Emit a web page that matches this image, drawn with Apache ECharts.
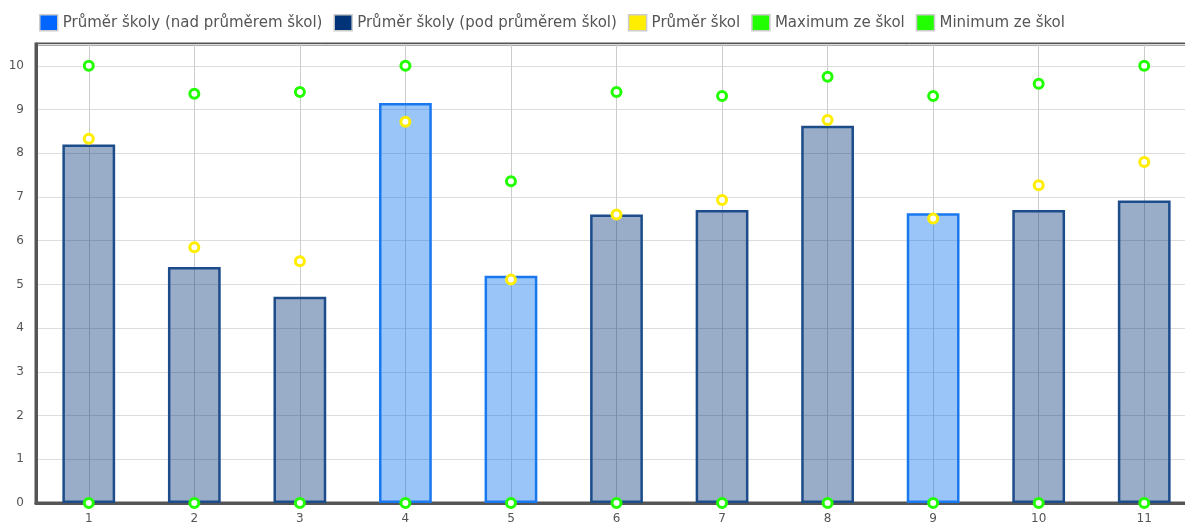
<!DOCTYPE html>
<html><head><meta charset="utf-8">
<script src="https://cdn.jsdelivr.net/npm/echarts@6/dist/echarts.min.js"></script>
<style>html,body{margin:0;padding:0;background:#fff;overflow:hidden;width:1185px;height:525px}
#wrap{width:1185px;height:525px;overflow:hidden;position:relative}
#c{width:1197px;height:525px;position:absolute;left:0;top:0}</style>
</head><body><div id="wrap"><div id="c"></div></div>
<script>
const categories = ['1','2','3','4','5','6','7','8','9','10','11'];
const schoolAbove = ['-','-','-',9.15,5.2,'-','-','-',6.63,'-','-'];
const schoolBelow = [8.2,5.4,4.72,'-','-',6.6,6.7,8.63,'-',6.7,6.92];
const avgSchools = [8.33,5.85,5.53,8.72,5.11,6.6,6.93,8.76,6.51,7.27,7.8];
const maxSchools = [10,9.36,9.4,10,7.36,9.4,9.31,9.75,9.31,9.59,10];
const minSchools = [0,0,0,0,0,0,0,0,0,0,0];
const yTicks = [0,1,2,3,4,5,6,7,8,9,10];

const chart = echarts.init(document.getElementById('c'));
const font = 'DejaVu Sans, Verdana, sans-serif';
const pointSeries = (name, data, color) => ({
  name, type: 'line', data, symbol: 'circle', symbolSize: 9,
  lineStyle: {width: 0, opacity: 0}, showSymbol: true,
  itemStyle: {color: '#fff', borderColor: color, borderWidth: 3},
  z: 5
});
chart.setOption({
  animation: false,
  textStyle: {fontFamily: font},
  legend: {
    left: 34, top: 9, itemWidth: 18, itemHeight: 16, itemGap: 11,
    textStyle: {fontSize: 15, color: '#555', fontFamily: font},
    data: [
      {name: 'Průměr školy (nad průměrem škol)', icon: 'rect', itemStyle: {color: '#0066ff', borderColor: '#ccc', borderWidth: 1.5}},
      {name: 'Průměr školy (pod průměrem škol)', icon: 'rect', itemStyle: {color: '#003377', borderColor: '#ccc', borderWidth: 1.5}},
      {name: 'Průměr škol', icon: 'rect', itemStyle: {color: '#ffee00', borderColor: '#ccc', borderWidth: 1.5}},
      {name: 'Maximum ze škol', icon: 'rect', itemStyle: {color: '#22ff00', borderColor: '#ccc', borderWidth: 1.5}},
      {name: 'Minimum ze škol', icon: 'rect', itemStyle: {color: '#22ff00', borderColor: '#ccc', borderWidth: 1.5}}
    ]
  },
  grid: {left: 36, right: 0, top: 44, bottom: 22, show: true, borderColor: '#555', borderWidth: 3},
  xAxis: {
    type: 'category', data: categories,
    axisLine: {lineStyle: {color: '#555', width: 3}},
    axisTick: {show: false},
    axisLabel: {color: '#555', fontSize: 12, margin: 10},
    splitLine: {show: true, alignWithLabel: true, lineStyle: {color: '#ccc', width: 1}}
  },
  yAxis: {
    type: 'value', min: 0, max: 10.5, interval: 1,
    axisLine: {show: true, lineStyle: {color: '#555', width: 3}},
    axisTick: {show: false},
    axisLabel: {color: '#555', fontSize: 12, margin: 12, formatter: v => yTicks.includes(v) ? String(v) : ''},
    splitLine: {lineStyle: {color: '#ddd', width: 1}}
  },
  series: [
    {name: 'Průměr školy (nad průměrem škol)', type: 'bar', stack: 's', data: schoolAbove, barWidth: '50%',
     itemStyle: {color: 'rgba(0,110,240,0.4)', borderColor: '#1a78ee', borderWidth: 2.5}},
    {name: 'Průměr školy (pod průměrem škol)', type: 'bar', stack: 's', data: schoolBelow, barWidth: '50%',
     itemStyle: {color: 'rgba(0,51,119,0.4)', borderColor: '#1c4c8a', borderWidth: 2.5}},
    pointSeries('Průměr škol', avgSchools, '#ffee00'),
    pointSeries('Maximum ze škol', maxSchools, '#22ff00'),
    pointSeries('Minimum ze škol', minSchools, '#22ff00')
  ]
});
</script></body></html>
